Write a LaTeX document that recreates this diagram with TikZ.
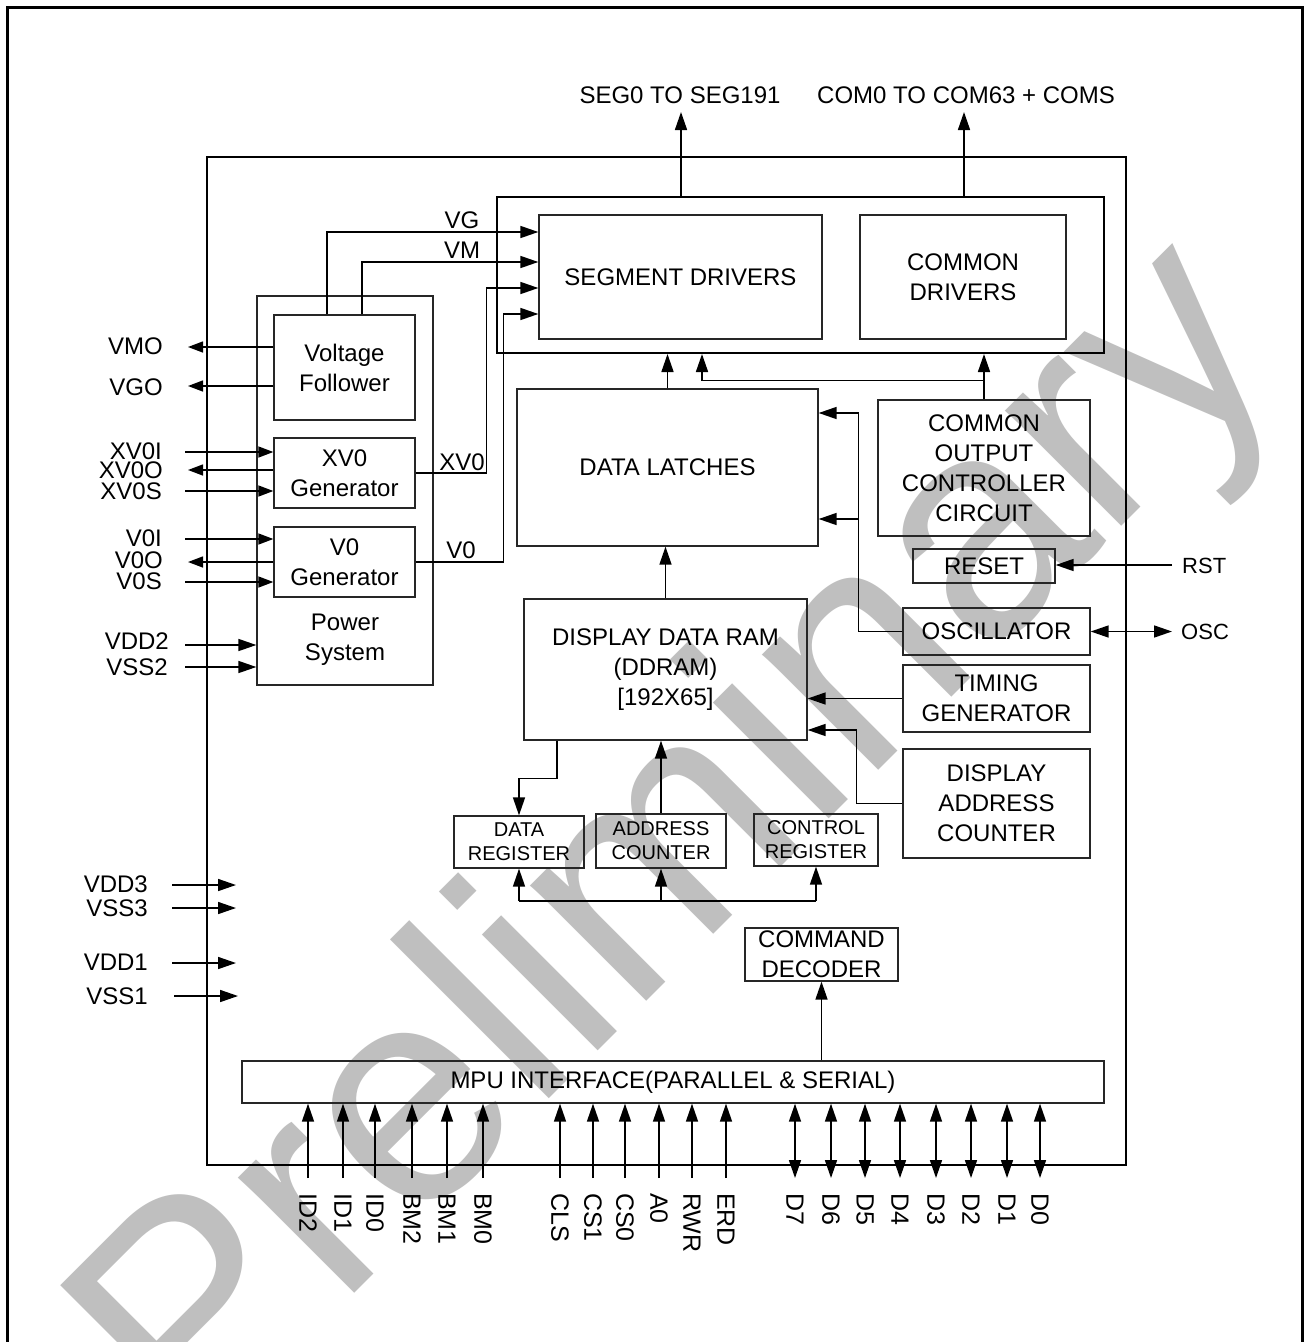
\documentclass[tikz,border=0pt]{standalone}
\usepackage{fontspec}
\setmainfont{Liberation Sans}
\usetikzlibrary{arrows.meta}
\begin{document}
\begin{tikzpicture}[x=1pt,y=-1pt,
  box/.style={draw=black!85, line width=1.3pt, inner sep=0pt, align=center, font=\fontsize{24}{30}\selectfont},
  sbox/.style={box, font=\fontsize{20}{24}\selectfont},
  frame/.style={draw, line width=2pt, inner sep=0pt},
  conn/.style={line width=1.6pt, -{Triangle[length=18pt,width=12pt]}},
  dconn/.style={line width=1.6pt, {Triangle[length=18pt,width=12pt]}-{Triangle[length=18pt,width=12pt]}},
  pin/.style={line width=1.4pt, -{Triangle[length=15pt,width=11pt]}},
  lbl/.style={font=\fontsize{24}{30}\selectfont, inner sep=0pt},
  slbl/.style={font=\fontsize{22}{26}\selectfont, inner sep=0pt},
  blbl/.style={font=\fontsize{25}{30}\selectfont, inner sep=0pt, rotate=-90, anchor=west},
  wm/.style={rotate=45, text=black!25, font=\fontsize{310}{310}\selectfont, inner sep=0pt}
]
\useasboundingbox (0,0) rectangle (1304,1342);
\begin{scope}
\clip (0,0) rectangle (1304,1342);
\node[wm] (wm) at (685,850) {Preliminary};
\end{scope}
% page frame
\draw[line width=3pt] (7,1342) -- (7,7) -- (1302,7) -- (1302,1342);
% chip
\node[frame, minimum width=919pt, minimum height=1008pt] (chip) at (666.5,661) {};
% drivers
\node[frame, minimum width=607pt, minimum height=156pt] (DRV) at (800.5,275) {};
\node[box,minimum width=283pt,minimum height=124pt] (SEG) at (680.5,277) {SEGMENT DRIVERS};
\node[box,minimum width=206pt,minimum height=124pt] (COMD) at (963,277) {COMMON\\DRIVERS};
% power system
\node[box,minimum width=176pt,minimum height=389pt] (PWR) at (345,490.5) {};
\node[lbl, align=center] (PWRt) at (345,640) {Power\\System};
\node[box,minimum width=141pt,minimum height=105pt] (VF) at (344.5,367.5) {Voltage\\Follower};
\node[box,minimum width=141pt,minimum height=70pt] (XVG) at (344.5,473) {XV0\\Generator};
\node[box,minimum width=141pt,minimum height=70pt] (VZG) at (344.5,562) {V0\\Generator};
% core blocks
\node[box,minimum width=301pt,minimum height=157pt] (DL) at (667.5,467.5) {DATA LATCHES};
\node[box,minimum width=212pt,minimum height=136pt] (COC) at (984,468) {COMMON\\OUTPUT\\CONTROLLER\\CIRCUIT};
\node[box,minimum width=142pt,minimum height=34pt] (RES) at (984,566) {RESET};
\node[box,minimum width=187pt,minimum height=47pt] (OSC) at (996.5,631.5) {OSCILLATOR};
\node[box,minimum width=187pt,minimum height=67pt] (TIM) at (996.5,698.5) {TIMING\\GENERATOR};
\node[box,minimum width=187pt,minimum height=109pt] (DAC) at (996.5,803.5) {DISPLAY\\ADDRESS\\COUNTER};
\node[box,minimum width=283pt,minimum height=141pt] (DDR) at (665.5,669.5) {DISPLAY DATA RAM\\(DDRAM)\\{[192X65]}};
\node[sbox,minimum width=130pt,minimum height=52pt] (DREG) at (519,842) {DATA\\REGISTER};
\node[sbox,minimum width=130pt,minimum height=54pt] (AC) at (661,841) {ADDRESS\\COUNTER};
\node[sbox,minimum width=124pt,minimum height=52pt] (CREG) at (816,840) {CONTROL\\REGISTER};
\node[box,minimum width=153pt,minimum height=53pt] (CMD) at (821.5,954.5) {COMMAND\\DECODER};
\node[box,minimum width=862pt,minimum height=42pt] (MPU) at (673,1082) {MPU INTERFACE(PARALLEL \& SERIAL)};

% outputs at top
\coordinate (segout) at (681,112);
\coordinate (comout) at (964,112);
\draw[conn] (DRV.north -| segout) -- (segout);
\draw[conn] (DRV.north -| comout) -- (comout);
\node[lbl] (segl) at (680,95) {SEG0 TO SEG191};
\node[lbl] (coml) at (966,95) {COM0 TO COM63 + COMS};

% voltages into segment drivers
\draw[conn] ([xshift=-17.5pt]VF.north) |- ([yshift=45pt]SEG.west);
\draw[conn] ([xshift=17.5pt]VF.north) |- ([yshift=15pt]SEG.west);
\draw[conn] (XVG.east) -- ++(71,0) |- ([yshift=-11pt]SEG.west);
\draw[conn] (VZG.east) -- ++(88,0) |- ([yshift=-37pt]SEG.west);
\node[lbl] (lVG) at (462,220) {VG};
\node[lbl] (lVM) at (462,250) {VM};
\node[lbl] (lXV) at (462,462) {XV0};
\node[lbl] (lV0) at (461,550) {V0};

% left pins
\coordinate (pVMO) at (188,347);
\coordinate (pVGO) at (188,386);
\coordinate (pXI) at (185,452);
\coordinate (pXO) at (188,470);
\coordinate (pXS) at (185,491);
\coordinate (pVI) at (185,539);
\coordinate (pVO) at (188,562);
\coordinate (pVS) at (185,582);
\coordinate (pDD2) at (185,645);
\coordinate (pSS2) at (185,667);
\draw[pin] (VF.west |- pVMO) -- (pVMO);
\draw[pin] (VF.west |- pVGO) -- (pVGO);
\draw[pin] (pXI) -- (XVG.west |- pXI);
\draw[pin] (XVG.west |- pXO) -- (pXO);
\draw[pin] (pXS) -- (XVG.west |- pXS);
\draw[pin] (pVI) -- (VZG.west |- pVI);
\draw[pin] (VZG.west |- pVO) -- (pVO);
\draw[pin] (pVS) -- (VZG.west |- pVS);
\draw[conn] (pDD2) -- (PWR.west |- pDD2);
\draw[conn] (pSS2) -- (PWR.west |- pSS2);
\node[lbl, anchor=east] (tVMO) at (163,346) {VMO};
\node[lbl, anchor=east] (tVGO) at (163,387) {VGO};
\node[lbl, anchor=east] (tXI) at (162,451) {XV0I};
\node[lbl, anchor=east] (tXO) at (163,470) {XV0O};
\node[lbl, anchor=east] (tXS) at (162,491) {XV0S};
\node[lbl, anchor=east] (tVI) at (162,538) {V0I};
\node[lbl, anchor=east] (tVO) at (163,560) {V0O};
\node[lbl, anchor=east] (tVS) at (162,581) {V0S};
\node[lbl, anchor=east] (tDD2) at (169,641) {VDD2};
\node[lbl, anchor=east] (tSS2) at (168,667) {VSS2};

% supply pins
\coordinate (aDD3) at (172,885); \coordinate (bDD3) at (236,885);
\coordinate (aSS3) at (172,908); \coordinate (bSS3) at (236,908);
\coordinate (aDD1) at (172,963); \coordinate (bDD1) at (236,963);
\coordinate (aSS1) at (174,996); \coordinate (bSS1) at (238,996);
\draw[conn] (aDD3) -- (bDD3);
\draw[conn] (aSS3) -- (bSS3);
\draw[conn] (aDD1) -- (bDD1);
\draw[conn] (aSS1) -- (bSS1);
\node[lbl, anchor=east] (tDD3) at (148,884) {VDD3};
\node[lbl, anchor=east] (tSS3) at (148,908) {VSS3};
\node[lbl, anchor=east] (tDD1) at (148,962) {VDD1};
\node[lbl, anchor=east] (tSS1) at (148,996) {VSS1};

% internal data paths
\draw[conn] (DL.north) -- (DL.north |- DRV.south);
\draw[conn] (COC.north) -- (COC.north |- DRV.south);
\draw[conn] ([yshift=19pt]COC.north) -| ([xshift=-98.5pt]DRV.south);
\draw[conn] (DDR.north) -- (DDR.north |- DL.south);
\coordinate (la) at ([yshift=54.5pt]DL.east);
\coordinate (lb) at ([yshift=-51.5pt]DL.east);
\draw[conn] (OSC.west) -| ([xshift=40pt]la) -- (la);
\draw[conn] ([xshift=40pt]lb) -- (lb);
\draw[conn] (TIM.west) -- (TIM.west -| DDR.east);
\coordinate (dd) at ([yshift=-60.5pt]DDR.east);
\draw[conn] (DAC.west) -| ([xshift=49pt]dd) -- (dd);
\draw[conn] ([xshift=-108.5pt]DDR.south) -- ++(0,38) -| (DREG.north);
\draw[conn] (AC.north) -- (AC.north |- DDR.south);
\coordinate (bus) at (0,901);
\draw[line width=2.2pt] (DREG.south |- bus) -- (CREG.south |- bus);
\draw[conn] (DREG.south |- bus) -- (DREG.south);
\draw[conn] (AC.south |- bus) -- (AC.south);
\draw[conn] (CREG.south |- bus) -- (CREG.south);
\draw[conn] (MPU.north -| CMD.south) -- (CMD.south);

% right pins
\coordinate (pRST) at (1172,565);
\coordinate (pOSC) at (1172,631.5);
\draw[conn] (pRST) -- (RES.east |- pRST);
\draw[dconn] (OSC.east) -- (pOSC);
\node[slbl, anchor=west] (tRST) at (1182,566) {RST};
\node[slbl, anchor=west] (tOSC) at (1181,632) {OSC};

% bottom pins
\foreach \n/\x in {ID2/308, ID1/343, ID0/375, BM2/412, BM1/447, BM0/483, CLS/560, CS1/593, CS0/625, A0/659, RWR/692, ERD/726} {
  \coordinate (b\n) at (\x,1178);
  \draw[conn] (b\n) -- (MPU.south -| b\n);
  \node[blbl] (t\n) at (\x,1193) {\n};
}
\foreach \n/\x in {D7/795, D6/831, D5/865, D4/900, D3/936, D2/971, D1/1007, D0/1040} {
  \coordinate (b\n) at (\x,1178);
  \draw[dconn] (MPU.south -| b\n) -- (b\n);
  \node[blbl] (t\n) at (\x,1193) {\n};
}
\end{tikzpicture}
\end{document}
